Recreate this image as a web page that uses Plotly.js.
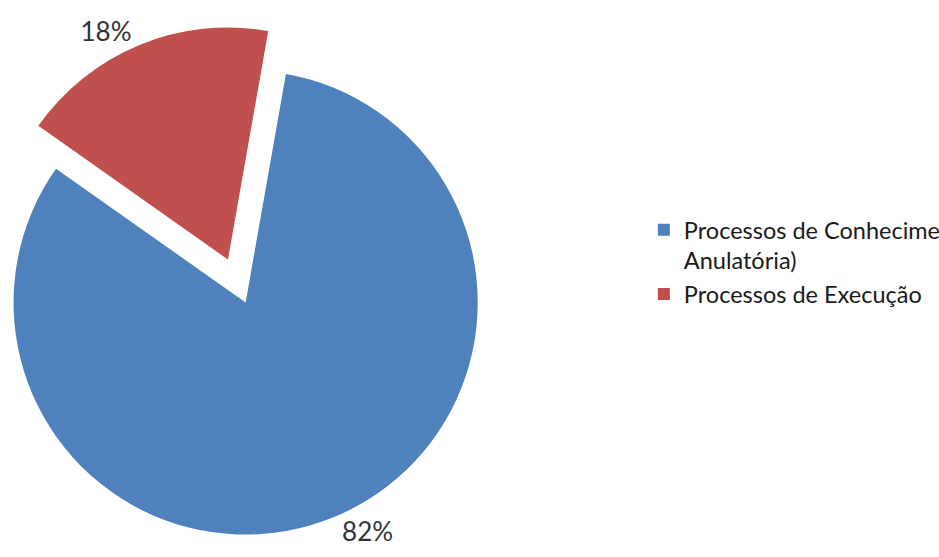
<!DOCTYPE html>
<html>
<head>
<meta charset="utf-8">
<script src="https://cdn.plot.ly/plotly-3.0.1.min.js"></script>
<style>
  html, body { margin: 0; padding: 0; background: #fff; }
  #wrap { position: relative; width: 939px; height: 557px; overflow: hidden; }
  #chart { position: absolute; left: -33.5px; top: 0; width: 972.5px; height: 581px; }
</style>
</head>
<body>
<div id="wrap"><div id="chart"></div></div>
<script>
const categories = ["Processos de Conhecimento (Ação<br>Anulatória)", "Processos de Execução"];
const values = [82, 18];
const colors = ["#4F81BD", "#C0504D"];
const pulls = [0, 0.2];

const W = 972.5, H = 581;
const trace = {
  type: "pie",
  labels: categories,
  values: values,
  sort: false,
  direction: "clockwise",
  rotation: 10,
  pull: pulls,
  marker: { colors: colors, line: { width: 0 } },
  textinfo: "percent",
  textposition: "outside",
  outsidetextfont: { family: "Lato, sans-serif", size: 26, color: "#333333" },
  hoverinfo: "none",
  domain: { x: [0, 557 / W], y: [0, 1] }
};

const layout = {
  width: W,
  height: H,
  margin: { l: 0, r: 0, t: 24, b: 0, autoexpand: false },
  paper_bgcolor: "#ffffff",
  showlegend: true,
  legend: {
    x: (643 + 33.5) / W,
    xanchor: "left",
    y: 1 - (208 - 24) / 557,
    yanchor: "top",
    valign: "top",
    font: { family: "Lato, sans-serif", size: 23.5, color: "#1a1a1a" }
  },
  font: { family: "Lato, sans-serif" }
};

Plotly.newPlot("chart", [trace], layout, { displayModeBar: false, staticPlot: true });
</script>
</body>
</html>
